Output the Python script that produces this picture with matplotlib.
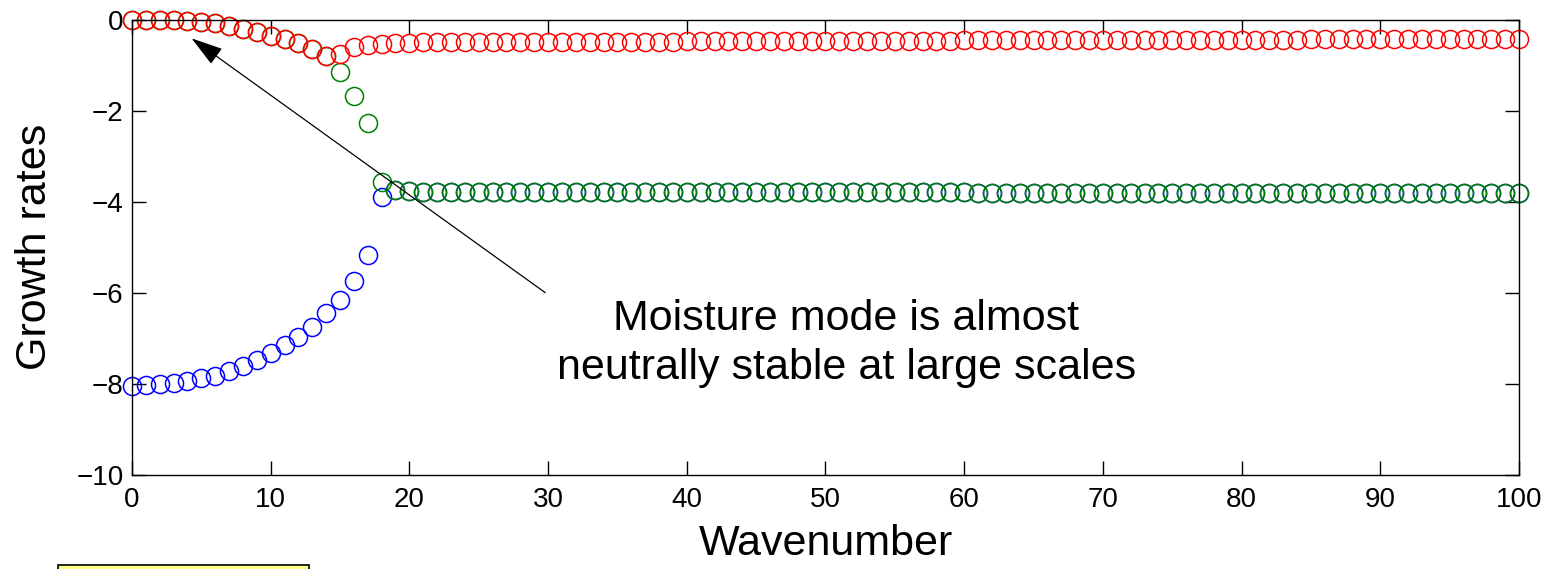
import matplotlib
matplotlib.use("Agg")
import matplotlib.pyplot as plt
from matplotlib.patches import Rectangle

plt.rcParams['font.family'] = ['Liberation Sans', 'DejaVu Sans']

wavenumber = list(range(0, 101))

red = [0.00, 0.00, 0.00, -0.01, -0.02, -0.05, -0.08, -0.14, -0.20, -0.26,
       -0.35, -0.42, -0.52, -0.65, -0.79, -0.75, -0.60, -0.56, -0.54, -0.52,
       -0.51, -0.50, -0.49, -0.49, -0.49, -0.49, -0.49, -0.49, -0.49, -0.49,
       -0.48, -0.48, -0.48, -0.48, -0.48, -0.48, -0.48, -0.48, -0.48, -0.48,
       -0.47, -0.47, -0.47, -0.47, -0.47, -0.47, -0.47, -0.47, -0.47, -0.47,
       -0.46, -0.46, -0.46, -0.46, -0.46, -0.46, -0.46, -0.46, -0.46, -0.46,
       -0.45, -0.45, -0.45, -0.45, -0.45, -0.45, -0.45, -0.45, -0.45, -0.45,
       -0.44, -0.44, -0.44, -0.44, -0.44, -0.44, -0.44, -0.44, -0.44, -0.44,
       -0.44, -0.44, -0.44, -0.44, -0.44, -0.43, -0.43, -0.43, -0.43, -0.43,
       -0.43, -0.43, -0.43, -0.43, -0.43, -0.43, -0.43, -0.43, -0.43, -0.43,
       -0.43]

# green branch from x = 15 onward (for x < 15 it coincides with red)
green_tail = [-1.14, -1.67, -2.28, -3.57, -3.74, -3.76,
              -3.78, -3.78, -3.78, -3.78, -3.78, -3.78, -3.78, -3.78, -3.78, -3.78,
              -3.79, -3.79, -3.79, -3.79, -3.79, -3.79, -3.79, -3.79, -3.79, -3.79,
              -3.79, -3.79, -3.79, -3.79, -3.79, -3.79, -3.79, -3.79, -3.79, -3.79,
              -3.79, -3.79, -3.79, -3.79, -3.79, -3.79, -3.79, -3.79, -3.79, -3.79,
              -3.80, -3.80, -3.80, -3.80, -3.80, -3.80, -3.80, -3.80, -3.80, -3.80,
              -3.80, -3.80, -3.80, -3.80, -3.80, -3.80, -3.80, -3.80, -3.80, -3.80,
              -3.80, -3.80, -3.80, -3.80, -3.80, -3.80, -3.80, -3.80, -3.80, -3.80,
              -3.80, -3.80, -3.80, -3.80, -3.80, -3.80, -3.80, -3.80, -3.80, -3.80]

# blue branch up to x = 18 (for x > 18 it coincides with green)
blue_head = [-8.05, -8.03, -8.01, -7.99, -7.95, -7.88, -7.82, -7.71, -7.61, -7.48,
             -7.33, -7.16, -6.97, -6.75, -6.45, -6.15, -5.74, -5.18, -3.89]

green = red[:15] + green_tail
blue = blue_head + green[19:]

xticks = [0, 10, 20, 30, 40, 50, 60, 70, 80, 90, 100]
yticks = [-10, -8, -6, -4, -2, 0]

fig = plt.figure(figsize=(15.54, 5.69), dpi=100)
ax = fig.add_axes([0.0849, 0.1657, 0.8926, 0.7997])

mk = dict(marker='o', linestyle='none', markersize=13, markerfacecolor='none',
          markeredgewidth=1.1, clip_on=False)
ax.plot(wavenumber, blue, markeredgecolor='#0000ff', **mk)
ax.plot(wavenumber, green, markeredgecolor='#008000', **mk)
ax.plot(wavenumber, red, markeredgecolor='#ff0000', **mk)

ax.set_xlim(0, 100)
ax.set_ylim(-10, 0)
ax.set_xticks(xticks)
ax.set_yticks(yticks)
ax.tick_params(direction='in', length=10, width=1.0, labelsize=20,
               top=True, right=True)
ax.tick_params(axis='x', pad=9)
ax.tick_params(axis='y', pad=6)
for s in ax.spines.values():
    s.set_linewidth(1.0)

ax.set_xlabel('Wavenumber', fontsize=31, va='center')
ax.xaxis.set_label_coords(0.5, -0.152)
ax.set_ylabel('Growth rates', fontsize=31, va='center')
ax.yaxis.set_label_coords(-0.070, 0.5)

ax.annotate('', xy=(4.3, -0.41), xytext=(29.8, -6.0),
            arrowprops=dict(arrowstyle='-|>,head_length=1.0,head_width=0.3',
                            mutation_scale=20, color='black', lw=0.9,
                            shrinkA=0, shrinkB=0), annotation_clip=False)
ax.text(51.5, -7.12, 'Moisture mode is almost\nneutrally stable at large scales',
        fontsize=31, ha='center', va='center', multialignment='center',
        linespacing=1.28)

fig.patches.append(Rectangle((0.0373, -0.05), 0.1615, 0.057,
                             transform=fig.transFigure, facecolor='#ffff88',
                             edgecolor='black', linewidth=1.2, zorder=5))

fig.savefig('out.png', dpi=100)
